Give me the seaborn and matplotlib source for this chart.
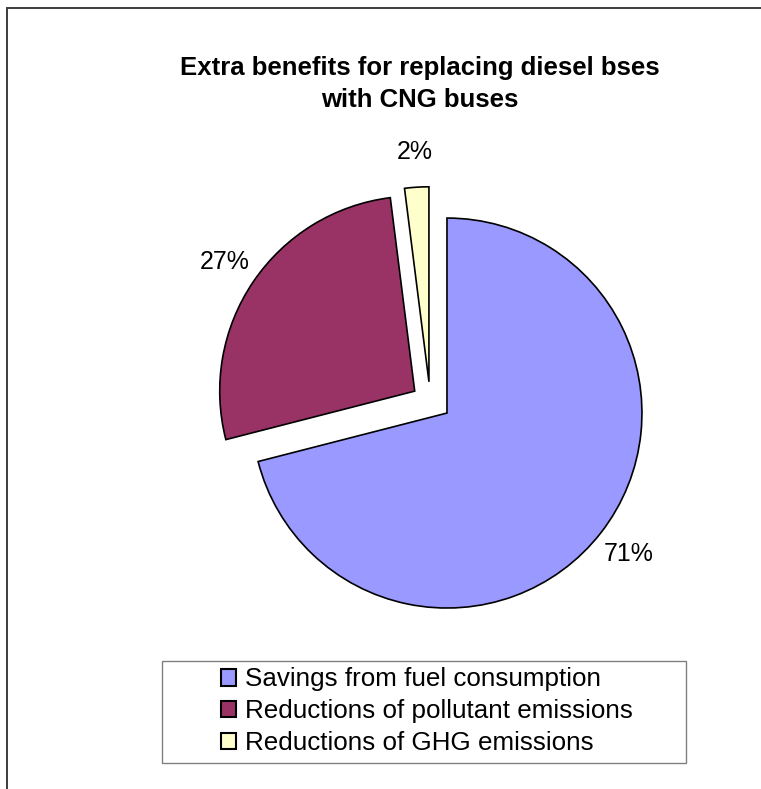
import numpy as np
import matplotlib
matplotlib.use("Agg")
import matplotlib.pyplot as plt
from matplotlib.patches import Rectangle
from matplotlib.lines import Line2D
import seaborn as sns

# chart data
categories = [
    "Savings from fuel consumption",
    "Reductions of pollutant emissions",
    "Reductions of GHG emissions",
]
shares = [71, 27, 2]
slice_colors = ["#9999FF", "#993366", "#FFFFCC"]
explode = [0, 0.2, 0.185]
title = "Extra benefits for replacing diesel bses\nwith CNG buses"


def draw_frame(fig):
    '''Outer chart border (only left and top sides are inside the picture)'''
    kw = dict(transform=fig.transFigure, color="#3c3c3c", lw=1.4)
    fig.add_artist(Line2D([7 / 761, 7 / 761], [1 - 8 / 789, 0], **kw))
    fig.add_artist(Line2D([7 / 761, 1], [1 - 8 / 789, 1 - 8 / 789], **kw))


def main():
    sns.set_theme(style="white")
    plt.rcParams["font.family"] = ["Liberation Sans", "DejaVu Sans"]
    plt.rcParams["text.color"] = "black"

    fig = plt.figure(figsize=(7.61, 7.89), dpi=100)
    fig.patch.set_facecolor("white")
    draw_frame(fig)

    # square axes placed so the pie sits where it is in the reference
    ax = fig.add_axes([0.203, 0.1058, 0.7687, 0.7414])
    palette = sns.color_palette(slice_colors)

    wedges, texts, autotexts = ax.pie(
        shares,
        colors=palette,
        explode=explode,
        startangle=90,
        counterclock=False,
        autopct="%1.0f%%",
        pctdistance=1.18,
        wedgeprops=dict(edgecolor="black", linewidth=1.2),
        textprops=dict(fontsize=18, color="black"),
    )

    # the small slice is pulled out up-left rather than along its middle
    small = wedges[2]
    old = np.array(small.center)
    ang = np.deg2rad(120)
    new = explode[2] * np.array([np.cos(ang), np.sin(ang)])
    small.set_center(tuple(new))
    x, y = autotexts[2].get_position()
    autotexts[2].set_position((x + new[0] - old[0], y + new[1] - old[1]))

    ax.set_xlim(-1.5, 1.5)
    ax.set_ylim(-1.5, 1.5)
    ax.axis("off")

    fig.text(0.552, 0.8935, title, ha="center", va="center", color="black",
             fontsize=18.5, fontweight="bold", linespacing=1.45)

    # legend box
    fig.add_artist(Rectangle((0.2129, 0.033), 0.6886, 0.1293,
                             transform=fig.transFigure, fill=False,
                             edgecolor="#808080", lw=1.0))
    leg = fig.legend(wedges, categories, loc="center",
                     bbox_to_anchor=(0.561, 0.0985),
                     bbox_transform=fig.transFigure,
                     frameon=False, fontsize=18.7, borderpad=0,
                     handlelength=0.6, handleheight=0.6,
                     handletextpad=0.35, labelspacing=0.3)
    for t in leg.get_texts():
        t.set_color("black")
    for h in leg.legend_handles:
        h.set_linewidth(1.5)

    fig.savefig("out.png", dpi=100, facecolor="white")


if __name__ == "__main__":
    main()
